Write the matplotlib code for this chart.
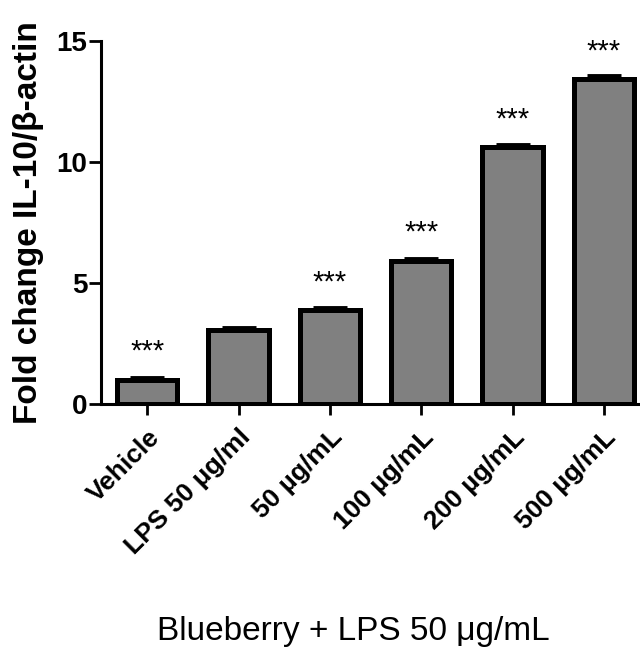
import matplotlib
matplotlib.use('Agg')
import matplotlib.pyplot as plt

plt.rcParams['font.family'] = ['Liberation Sans', 'DejaVu Sans']

groups = ['Vehicle', 'LPS 50 \u03bcg/ml', '50 \u00b5g/mL', '100 \u00b5g/mL', '200 \u00b5g/mL', '500 \u00b5g/mL']
fold = [1.02, 3.08, 3.88, 5.93, 10.62, 13.42]
err = [0.08, 0.08, 0.1, 0.08, 0.08, 0.12]
stars = ['***', '', '***', '***', '***', '***']

fig = plt.figure(figsize=(6.4, 6.5), dpi=100)
ax = fig.add_axes([0.158, 0.378, 0.857, 0.559])

x = list(range(len(groups)))
ax.bar(x, fold, width=0.66, color='#808080', edgecolor='black', linewidth=3.6, zorder=2)
ax.errorbar(x, fold, yerr=[[0] * len(err), err], fmt='none', ecolor='black',
            elinewidth=3, capsize=12, capthick=3.5, zorder=3)

for xi, v, s in zip(x, fold, stars):
    if s:
        ax.text(xi, v + 1.15, s, ha='center', va='center', fontsize=21)

ax.set_xlim(-0.505, 5.5)
ax.set_ylim(0, 15)
ax.set_yticks([0, 5, 10, 15])
ax.set_yticklabels(['0', '5', '10', '15'], fontsize=20, fontweight='bold')
ax.set_xticks(x)
ax.set_xticklabels(groups, rotation=45, ha='right', va='top', rotation_mode='anchor',
                   fontsize=19, fontweight='bold')

for side in ['top', 'right']:
    ax.spines[side].set_visible(False)
for side in ['left', 'bottom']:
    ax.spines[side].set_linewidth(2.2)
ax.tick_params(axis='y', direction='out', length=9, width=2, pad=1)
ax.tick_params(axis='x', direction='out', length=8, width=2, pad=7)

ax.set_ylabel('Fold change IL-10/\u03b2-actin', fontsize=24, fontweight='bold', labelpad=9)
fig.text(0.552, 0.004, 'Blueberry + LPS 50 \u03bcg/mL', ha='center', va='bottom', fontsize=24)

fig.savefig('out.png', dpi=100)
